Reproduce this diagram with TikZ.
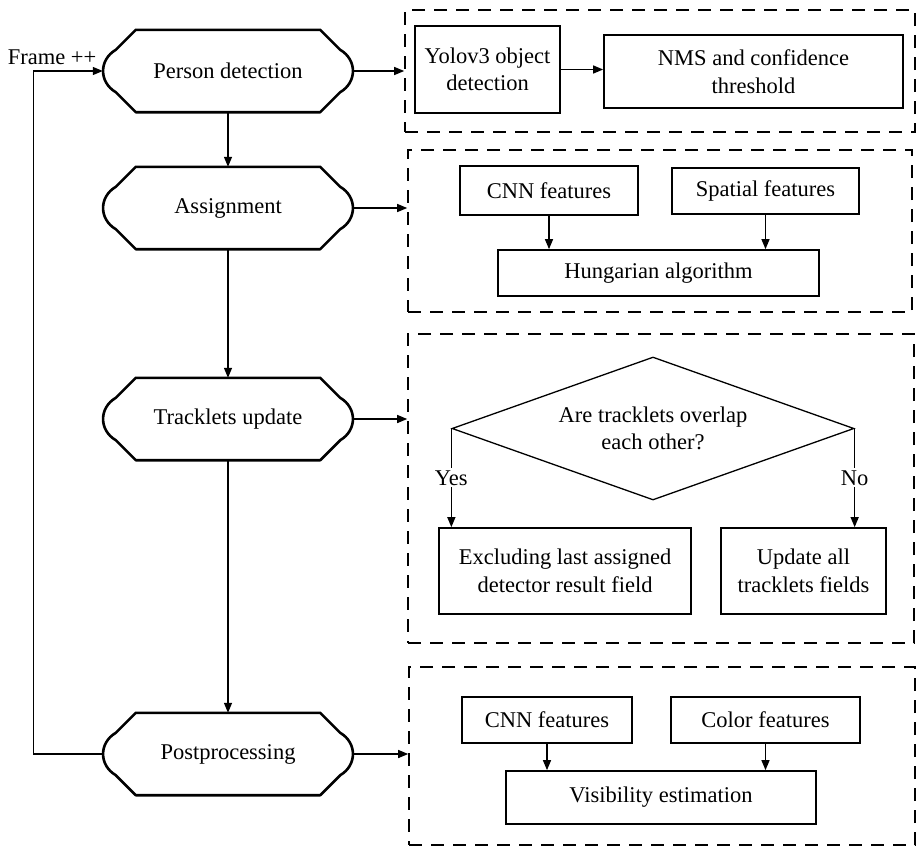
\documentclass[tikz,border=0pt]{standalone}
\usepackage{fontspec}
\setmainfont{Liberation Serif}
\usetikzlibrary{arrows.meta,shapes.geometric}
\begin{document}
\begin{tikzpicture}[x=1pt, y=-1pt,
    every node/.style={font=\fontsize{22.5}{27.5}\selectfont, align=center},
    term/.style={minimum width=250, minimum height=82, inner sep=0},
    group/.style={draw, line width=1.6, dash pattern=on 13pt off 9pt, inner sep=0},
    box/.style={draw, line width=1.7, inner sep=0},
    arrow/.style={line width=1.3, -{Triangle[length=10pt,width=8pt]}}]
    \useasboundingbox (0, 0) rectangle (917, 846);
    \node [term] (det) at (228, 71) {Person detection};
    \node [term] (asg) at (228, 208) {Assignment};
    \node [term] (upd) at (228, 419) {Tracklets update};
    \node [term] (post) at (228, 754) {Postprocessing};
    \foreach \n in {det, asg, upd, post}
        \draw [line width=2.6, line join=round] ([xshift=33]\n.north west) -- ([xshift=-33]\n.north east)
            -- ([xshift=-13, yshift=-20]\n.north east)
            .. controls ([xshift=4, yshift=-30]\n.north east) and ([xshift=4, yshift=30]\n.south east) .. ([xshift=-13, yshift=20]\n.south east)
            -- ([xshift=-33]\n.south east) -- ([xshift=33]\n.south west)
            -- ([xshift=13, yshift=20]\n.south west)
            .. controls ([xshift=-4, yshift=30]\n.south west) and ([xshift=-4, yshift=-30]\n.north west) .. ([xshift=13, yshift=-20]\n.north west)
            -- cycle;
    \node (frame) at (52, 57) {Frame ++};
    \node [group, minimum width=510, minimum height=122] (detbox) at (660, 71) {};
    \node [group, minimum width=504, minimum height=162] (asgbox) at (660, 231) {};
    \node [group, minimum width=506, minimum height=309] (updbox) at (661, 488.5) {};
    \node [group, minimum width=506, minimum height=178] (postbox) at (662, 756) {};
    \node [box, minimum width=145, minimum height=87] (yolo) at (487.5, 69.5) {Yolov3 object\\detection};
    \node [box, minimum width=299, minimum height=73] (nms) at (753.5, 71.5) {NMS and confidence\\threshold};
    \node [box, minimum width=178, minimum height=49] (cnna) at (549, 190.5) {CNN features};
    \node [box, minimum width=187, minimum height=46] (spatial) at (765.5, 191) {Spatial features};
    \node [box, minimum width=321, minimum height=46] (hung) at (658.5, 273) {Hungarian algorithm};
    \node [draw, line width=1.3, shape=diamond, aspect=2.8, inner sep=0, minimum width=402, minimum height=143] (overlap) at (653, 428.5) {Are tracklets overlap\\each other?};
    \node [box, minimum width=252, minimum height=86] (excl) at (565, 571) {Excluding last assigned\\detector result field};
    \node [box, minimum width=165, minimum height=86] (updall) at (803.5, 571) {Update all\\tracklets fields};
    \node [box, minimum width=170, minimum height=46] (cnnb) at (547, 720) {CNN features};
    \node [box, minimum width=189, minimum height=46] (color) at (765.5, 720) {Color features};
    \node [box, minimum width=310, minimum height=53] (vis) at (661, 797.5) {Visibility estimation};
    \draw [arrow] (det.south) -- (asg.north);
    \draw [arrow] (asg.south) -- (upd.north);
    \draw [arrow] (upd.south) -- (post.north);
    \draw [arrow] (post.west) -- ++(-69, 0) |- (det.west);
    \draw [arrow] (det.east) -- (det.east -| detbox.west);
    \draw [arrow] (asg.east) -- (asg.east -| asgbox.west);
    \draw [arrow] (upd.east) -- (upd.east -| updbox.west);
    \draw [arrow] (post.east) -- (post.east -| postbox.west);
    \draw [arrow] (yolo.east) -- (yolo.east -| nms.west);
    \draw [arrow] (cnna.south) -- (cnna.south |- hung.north);
    \draw [arrow] (spatial.south) -- (spatial.south |- hung.north);
    \draw [arrow] (overlap.west) -- node (yes) [fill=white, inner sep=2] {Yes} (overlap.west |- excl.north);
    \draw [arrow] (overlap.east) -- node (no) [fill=white, inner sep=2] {No} (overlap.east |- updall.north);
    \draw [arrow] (cnnb.south) -- (cnnb.south |- vis.north);
    \draw [arrow] (color.south) -- (color.south |- vis.north);
\end{tikzpicture}
\end{document}
